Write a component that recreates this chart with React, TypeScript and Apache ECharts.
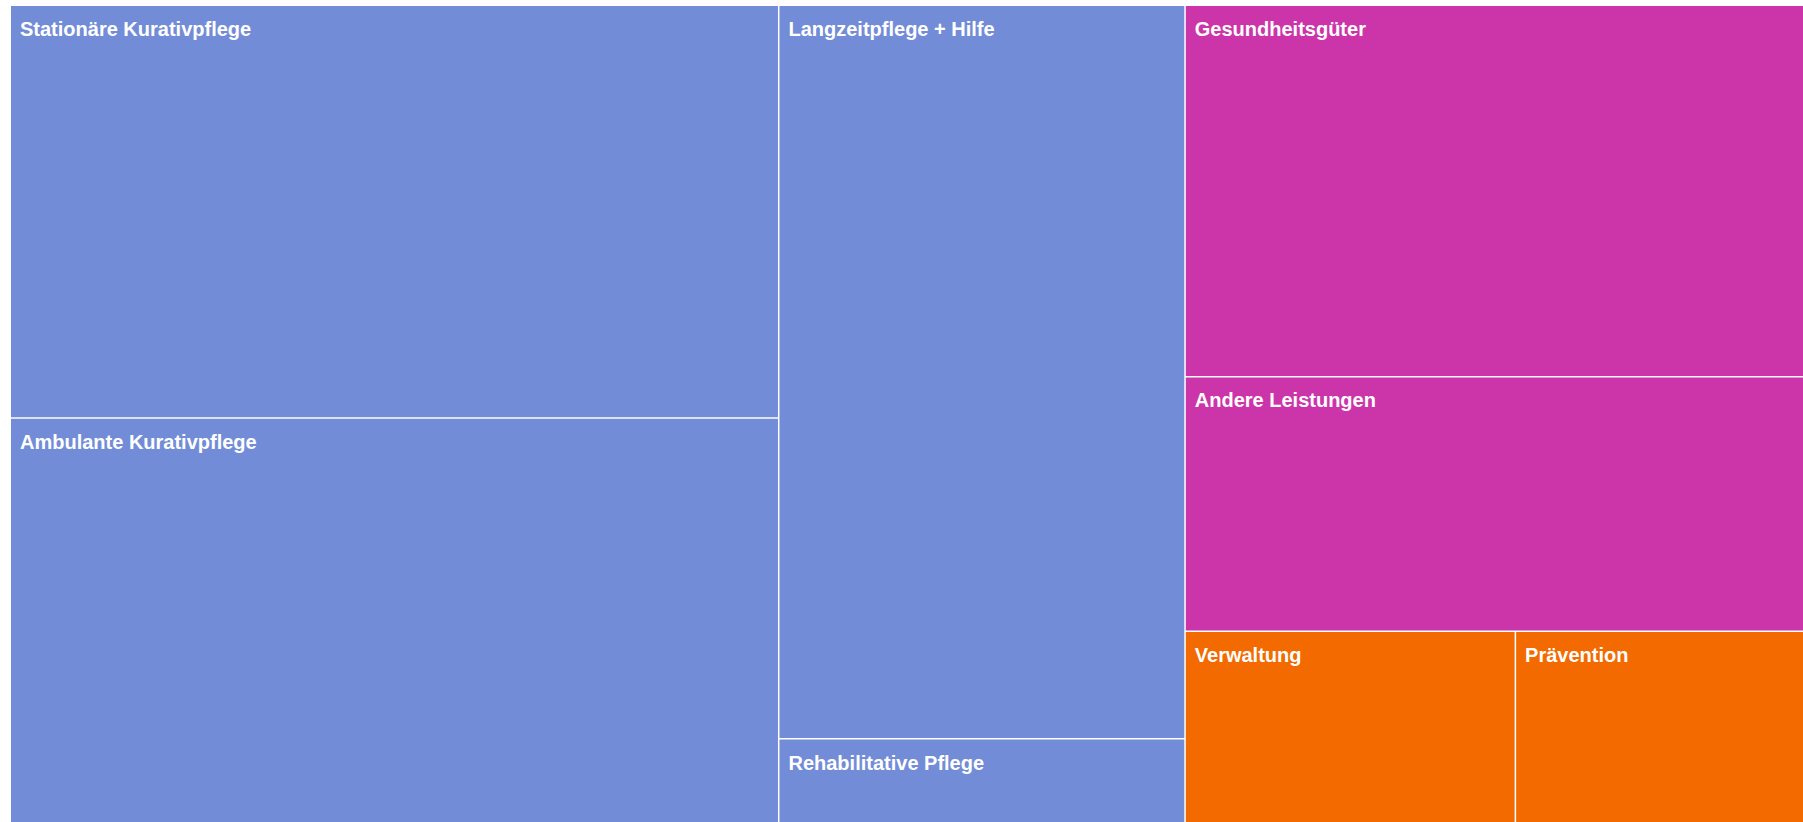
import React, { useEffect, useRef } from "react";
import * as echarts from "echarts";

const groupNames = ["Kurativ- und Langzeitpflege", "Güter und Leistungen", "Verwaltung und Prävention"];
const groupColors = ["#728CD7", "#CC35A9", "#F36A00"];

const group1Labels = ["Stationäre Kurativpflege", "Ambulante Kurativpflege", "Langzeitpflege + Hilfe", "Rehabilitative Pflege"];
const group1Values = [31.6, 31.0, 29.7, 3.4];

const group2Labels = ["Gesundheitsgüter", "Andere Leistungen"];
const group2Values = [22.9, 15.7];

const group3Labels = ["Verwaltung", "Prävention"];
const group3Values = [6.3, 5.5];

const groupLabels = [group1Labels, group2Labels, group3Labels];
const groupValues = [group1Values, group2Values, group3Values];

export default function App() {
  const ref = useRef<HTMLDivElement>(null);
  useEffect(() => {
    if (!ref.current) return;
    const chart = echarts.init(ref.current, null, { renderer: "svg" });
    const data = groupNames.map((g, gi) => ({
      name: g,
      itemStyle: { color: groupColors[gi] },
      children: groupLabels[gi].map((n, i) => ({
        name: n,
        value: groupValues[gi][i],
        itemStyle: { color: groupColors[gi] },
      })),
    }));
    chart.setOption({
      animation: false,
      series: [
        {
          type: "treemap",
          left: 11,
          top: 6,
          width: 1792,
          height: 816,
          roam: false,
          nodeClick: false,
          breadcrumb: { show: false },
          squareRatio: 1,
          label: {
            show: true,
            position: [4, 8],
            color: "#ffffff",
            fontFamily: "Liberation Sans",
            fontWeight: "bold",
            fontSize: 20,
          },
          upperLabel: { show: false },
          itemStyle: { borderWidth: 0, borderColor: "#ffffff", gapWidth: 1.5 },
          levels: [
            { itemStyle: { borderWidth: 0, borderColor: "#ffffff", gapWidth: 1.5 } },
            { itemStyle: { borderWidth: 0, borderColor: "#ffffff", gapWidth: 1.5 } },
            { itemStyle: { borderWidth: 0 } },
          ],
          data,
        },
      ],
    });
    return () => chart.dispose();
  }, []);
  return (
    <div
      ref={ref}
      style={{ position: "absolute", left: 0, top: 0, width: 1803, height: 822, background: "#ffffff" }}
    />
  );
}
